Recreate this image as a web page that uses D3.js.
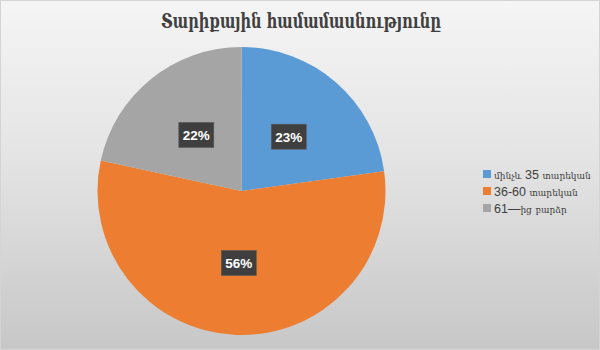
<!DOCTYPE html>
<html><head><meta charset="utf-8">
<script src="https://cdn.jsdelivr.net/npm/d3@7"></script>
<style>html,body{margin:0;padding:0;background:#fff}svg{display:block}</style>
</head><body>
<svg id="chart" width="600" height="350"></svg>
<script>
const title = "Տարիքային համամասնությունը";
const categories = ["մինչև 35 տարեկան", "36-60 տարեկան", "61—ից բարձր"];
const values = [22.8, 55.6, 21.6];
const colors = ["#5b9bd5", "#ed7d31", "#a5a5a5"];

const svg = d3.select("#chart");
const W = 600, H = 350;
const defs = svg.append("defs");
const g = defs.append("linearGradient").attr("id","bg").attr("x1",0).attr("y1",0).attr("x2",0).attr("y2",1);
g.append("stop").attr("offset","0").attr("stop-color","#f5f5f5");
g.append("stop").attr("offset","0.45").attr("stop-color","#e4e4e4");
g.append("stop").attr("offset","1").attr("stop-color","#c7c7c7");
svg.append("rect").attr("x",0.5).attr("y",0.5).attr("width",W-1).attr("height",H-1)
  .attr("fill","url(#bg)").attr("stroke","#d4d4d4");

svg.append("text").attr("x",301).attr("y",28).attr("text-anchor","middle")
  .attr("font-family","'DejaVu Serif', serif").attr("font-weight","bold").attr("font-size",20)
  .attr("fill","#404040").attr("textLength",280).attr("lengthAdjust","spacingAndGlyphs").text(title);

const cx = 241.5, cy = 191, R = 144;
const pie = d3.pie().sort(null).value(d => d)(values);
const arc = d3.arc().innerRadius(0).outerRadius(R);
const labelArc = d3.arc().innerRadius(R*0.5).outerRadius(R*0.5);
const total = d3.sum(values);
const gp = svg.append("g").attr("transform",`translate(${cx},${cy})`);
gp.selectAll("path").data(pie).join("path").attr("d",arc).attr("fill",(d,i)=>colors[i]);

const lab = gp.selectAll("g.lab").data(pie).join("g").attr("class","lab")
  .attr("transform", d => { const c = labelArc.centroid(d); return `translate(${c[0]},${c[1]})`; });
lab.append("rect").attr("x",-17.5).attr("y",-12.5).attr("width",35).attr("height",25)
  .attr("fill","#3f3f3f").attr("stroke","#595959").attr("stroke-width",0.6);
lab.append("text").attr("text-anchor","middle").attr("y",5)
  .attr("font-family","'Liberation Sans', Arial, sans-serif").attr("font-weight","bold").attr("font-size",13.5)
  .attr("fill","#ffffff").text(d => Math.round(d.value/total*100) + "%");

const lg = svg.append("g");
categories.forEach((c,i) => {
  const y = 170 + i*17;
  lg.append("rect").attr("x",483).attr("y",y).attr("width",8).attr("height",8).attr("fill",colors[i]);
  const t = lg.append("text").attr("x",494).attr("y",y+8.5)
    .attr("font-family","'Liberation Sans', Arial, sans-serif").attr("font-size",12.5)
    .attr("fill","#404040");
  const runs = c.match(/[\u0530-\u058F]+|[^\u0530-\u058F]+/g);
  runs.forEach(r => {
    const arm = /[\u0530-\u058F]/.test(r);
    t.append("tspan").attr("font-size", arm ? 9 : 12.5)
      .attr("font-family", arm ? "'DejaVu Serif', serif" : null).text(r);
  });
});
</script>
</body></html>
